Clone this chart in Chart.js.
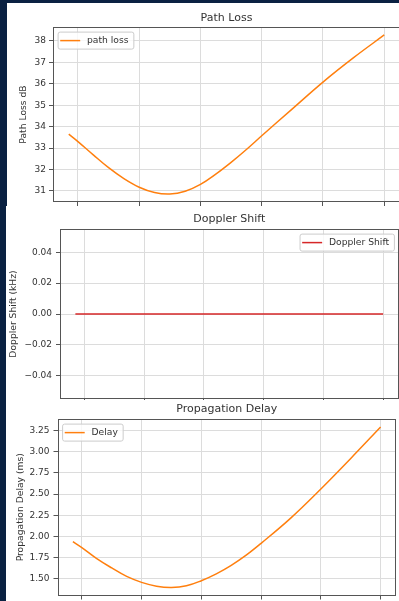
<!DOCTYPE html>
<html>
<head>
<meta charset="utf-8">
<script src="https://cdn.jsdelivr.net/npm/chart.js@4.4.0/dist/chart.umd.min.js"></script>
<style>
  html, body { margin: 0; padding: 0; }
  body { width: 399px; height: 601px; overflow: hidden; background: #0a2142; position: relative; }
  .sheet { position: absolute; background: #fff; }
  canvas { position: absolute; }
</style>
</head>
<body>
<div class="sheet" style="left:7px;top:3px;width:400px;height:203px"></div>
<div class="sheet" style="left:6px;top:206px;width:400px;height:400px"></div>
<canvas id="pathloss-graph" width="412" height="206" style="left:0;top:0"></canvas>
<canvas id="doppler-graph" width="412" height="194" style="left:0;top:206px"></canvas>
<canvas id="delay-graph" width="399" height="201" style="left:0;top:400px"></canvas>
<script>
// sample times (in x tick units, tick labels are cropped off in the picture)
const time_pts = [-0.15, 0, 0.25, 0.5, 0.75, 1, 1.25, 1.5, 1.75, 2, 2.25, 2.5, 2.75, 3, 3.5, 4, 4.5, 5];
const path_loss = [33.65, 33.3, 32.68, 32.08, 31.57, 31.17, 30.92, 30.85, 30.98, 31.3, 31.78, 32.33, 32.93, 33.57, 34.83, 36.08, 37.22, 38.28];
const doppler_shift = [0, 0, 0, 0, 0, 0, 0, 0, 0, 0, 0, 0, 0, 0, 0, 0, 0, 0];
const delay_ms = [1.94, 1.87, 1.74, 1.63, 1.53, 1.46, 1.415, 1.40, 1.42, 1.48, 1.56, 1.66, 1.78, 1.92, 2.22, 2.56, 2.92, 3.29];

const x_ticks = [0, 1, 2, 3, 4, 5];
const loss_ticks = [31, 32, 33, 34, 35, 36, 37, 38];
const doppler_ticks = [-0.04, -0.02, 0, 0.02, 0.04];
const delay_ticks = [1.5, 1.75, 2.0, 2.25, 2.5, 2.75, 3.0, 3.25];

Chart.defaults.font.family = '"DejaVu Sans", sans-serif';
Chart.defaults.color = '#333';

const GRID = '#dcdcdc';
const SPINE = '#555';

// matplotlib style 5% margins
function padded_range(vals){
  const lo = Math.min(...vals), hi = Math.max(...vals);
  const span = hi - lo;
  if (span === 0) return [lo - 0.055, hi + 0.055];
  return [lo - 0.05 * span, hi + 0.05 * span];
}

function fmt_minus(v, digits){
  return v.toFixed(digits).replace('-', '\u2212');
}

function no_pad(s){
  s.paddingTop = 0; s.paddingBottom = 0; s.paddingLeft = 0; s.paddingRight = 0;
}

const frame_plugin = {
  id: 'frame',
  beforeDatasetsDraw(chart){
    const a = chart.chartArea, ctx = chart.ctx;
    ctx.save();
    ctx.strokeStyle = SPINE;
    ctx.lineWidth = 1;
    ctx.strokeRect(Math.round(a.left) + 0.5, Math.round(a.top) + 0.5,
                   Math.round(a.right) - Math.round(a.left) - 1, Math.round(a.bottom) - Math.round(a.top) - 1);
    ctx.restore();
  }
};

const box_legend = {
  id: 'boxLegend',
  afterDraw(chart, args, opts){
    const ds = chart.data.datasets[0];
    const a = chart.chartArea, ctx = chart.ctx;
    ctx.save();
    ctx.font = '9.2px "DejaVu Sans"';
    const tw = ctx.measureText(ds.label).width;
    const w = 2.6 + 20 + 6.8 + tw + 4.8, h = 17;
    const x = opts.corner == 'right' ? a.right - 4.6 - w : a.left + 4.6;
    const y = a.top + 4.6;
    ctx.beginPath();
    ctx.roundRect(x + 0.5, y + 0.5, w, h, 2);
    ctx.fillStyle = 'rgba(255,255,255,0.8)';
    ctx.fill();
    ctx.strokeStyle = '#cccccc';
    ctx.lineWidth = 1;
    ctx.stroke();
    ctx.beginPath();
    ctx.moveTo(x + 2.6, y + h / 2 + 0.5);
    ctx.lineTo(x + 22.6, y + h / 2 + 0.5);
    ctx.strokeStyle = ds.borderColor;
    ctx.lineWidth = 1.5;
    ctx.stroke();
    ctx.fillStyle = '#333';
    ctx.textBaseline = 'middle';
    ctx.fillText(ds.label, x + 29.4, y + h / 2 + 0.5);
    ctx.restore();
  }
};

function build_chart(id, c){
  const xr = padded_range(time_pts);
  const yr = padded_range(c.values);
  return new Chart(document.getElementById(id), {
    type: 'line',
    data: {
      datasets: [{
        label: c.label,
        data: time_pts.map((t, i) => ({x: t, y: c.values[i]})),
        borderColor: c.color,
        borderWidth: 1.5,
        pointRadius: 0,
        tension: 0.4,
        fill: false
      }]
    },
    options: {
      responsive: false,
      animation: false,
      devicePixelRatio: 1,
      layout: {padding: {left: 0, top: 0, right: c.right_pad, bottom: 0}},
      plugins: {
        legend: {display: false},
        tooltip: {enabled: false},
        title: {
          display: true,
          text: c.title,
          fullSize: false,
          color: '#333',
          font: {size: 11, weight: 'normal'},
          padding: {top: c.title_top, bottom: c.title_bottom}
        },
        boxLegend: {corner: c.legend_corner}
      },
      scales: {
        x: {
          type: 'linear',
          min: xr[0],
          max: xr[1],
          border: {display: false},
          grid: {color: GRID, tickColor: SPINE, tickLength: 4},
          ticks: {display: false},
          afterBuildTicks: s => { s.ticks = x_ticks.map(v => ({value: v})); },
          afterFit: s => { s.height = c.x_height; no_pad(s); }
        },
        y: {
          min: yr[0],
          max: yr[1],
          border: {display: false},
          grid: {color: GRID, tickColor: SPINE, tickLength: 4},
          ticks: {
            padding: c.tick_pad,
            color: '#333',
            font: {size: 9},
            callback: v => fmt_minus(v, c.digits)
          },
          title: {
            display: true,
            text: c.y_title,
            color: '#333',
            font: {size: 9.2},
            padding: {top: c.y_title_pad, bottom: 0}
          },
          afterBuildTicks: s => { s.ticks = c.y_ticks.map(v => ({value: v})); },
          afterFit: s => { s.width = c.y_width; no_pad(s); }
        }
      }
    },
    plugins: [frame_plugin, box_legend]
  });
}

build_chart('pathloss-graph', {
  title: 'Path Loss', label: 'path loss', color: '#ff7f0e', values: path_loss,
  y_ticks: loss_ticks, digits: 0, y_title: 'Path Loss dB',
  y_width: 53, right_pad: 12, x_height: 4, title_top: 11.5, title_bottom: 2.3,
  tick_pad: 3, y_title_pad: 18.5, legend_corner: 'left'
});

build_chart('doppler-graph', {
  title: 'Doppler Shift', label: 'Doppler Shift', color: '#d62728', values: doppler_shift,
  y_ticks: doppler_ticks, digits: 2, y_title: 'Doppler Shift (kHz)',
  y_width: 60, right_pad: 13.5, x_height: 1, title_top: 6.4, title_bottom: 3.4,
  tick_pad: 4, y_title_pad: 8.5, legend_corner: 'right'
});

build_chart('delay-graph', {
  title: 'Propagation Delay', label: 'Delay', color: '#ff7f0e', values: delay_ms,
  y_ticks: delay_ticks, digits: 2, y_title: 'Propagation Delay (ms)',
  y_width: 57.5, right_pad: 3, x_height: 5.5, title_top: 3, title_bottom: 2.8,
  tick_pad: 4, y_title_pad: 15.2, legend_corner: 'left'
});
</script>
</body>
</html>
